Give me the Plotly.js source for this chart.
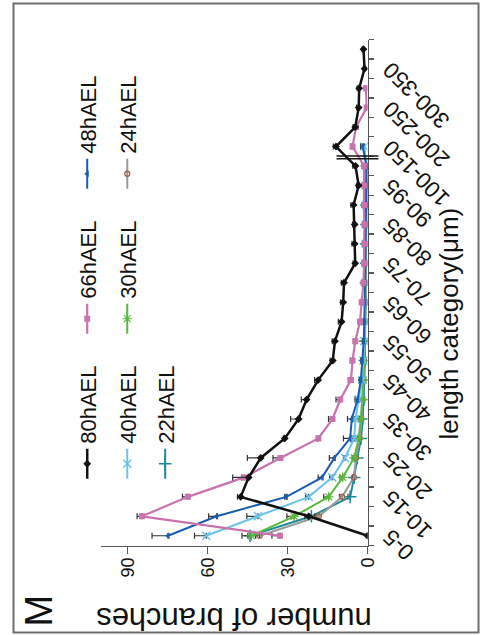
<!DOCTYPE html>
<html>
<head>
<meta charset="utf-8">
<script src="https://cdn.plot.ly/plotly-3.0.1.min.js"></script>
<style>
html,body{margin:0;padding:0;width:482px;height:635px;overflow:hidden;background:#fff;}
#wrap{position:absolute;left:-76.5px;top:76.5px;width:635px;height:482px;transform:rotate(-90deg);transform-origin:50% 50%;}
#chart{position:absolute;left:0;top:0;width:635px;height:482px;}
#frame{position:absolute;left:2px;top:12px;width:631px;height:467px;border:2px solid #6e6e6e;box-sizing:border-box;pointer-events:none;}
</style>
</head>
<body>
<div id="wrap"><div id="chart"></div><div id="frame"></div></div>
<script>
// length categories (µm)
const categories = ['0-5','5-10','10-15','15-20','20-25','25-30','30-35','35-40','40-45','45-50','50-55','55-60','60-65','65-70','70-75','75-80','80-85','85-90','90-95','95-100','100-150','150-200','200-250','250-300','300-350','350-400'];
const tickLabels = ['0-5','','10-15','','20-25','','30-35','','40-45','','50-55','','60-65','','70-75','','80-85','','90-95','','100-150','','200-250','','300-350',''];
const valueTicks = [0, 30, 60, 90];

// number of branches per category, and upper error
const h80 = [0,22,47.5,44.5,40,31,25.8,22.8,18.5,13,12.2,9.7,9.1,8.8,4.6,4.8,4.8,5.2,3.3,4.5,11.8,4.6,3.3,3.1,1.1,1.5];
const e80 = [0,1.5,1.2,6,5,0.5,3,2,1.3,1,1,1.2,1,1,0.8,1,0.8,1,0.8,1,1,0.8,0.8,0.8,0.5,0.5];
const h66 = [32.8,84.5,67.3,46.2,32.6,18.4,13.1,10.2,6.2,5.6,4.6,2.8,2.2,1.5,1.3,1.2,1.2,1.3,1.3,1.3,5.6,4.3,0.3,0.6,null,null];
const e66 = [3,1.8,2,1,2.8,0.5,1.5,1.6,1,0.8,0.6,0.5,0.5,0.4,0.4,0.4,0.4,0.4,0.4,0.4,0.6,0.5,0.2,0.2,null,null];
const h48 = [74.7,56.5,30.4,17,12.4,6.5,5.9,3.7,2.5,2,1.4,1.2,1,0.9,0.8,0.7,0.6,0.5,0.5,0.4,1.8];
const e48 = [6,3,0.6,1.5,1.9,2.5,1.6,1,0.6,0.5,0.4,0.4,0.3,0.3,0.3,0.3,0.3,0.3,0.3,0.3,0.8];
const h40 = [60.4,41,22,13.2,8.4,5,4.5,3.3,2,1.5,1.2,1,0.9,0.8,0.7,0.6,0.5,0.5,0.4,0.4,1.2];
const e40 = [4.4,4.2,1.2,1,0.6,0.5,0.5,0.4,0.4,0.3,0.3,0.3,0.3,0.3,0.3,0.3,0.3,0.3,0.3,0.3,0.4];
const h30 = [43.5,27.5,14.5,9.3,5,3.3,2.5,2,1.5,1.3,1,0.9,0.8,0.7,0.6,0.5,0.4,0.3,0.3,0.3];
const e30 = [3.5,2.7,1.9,1,0.7,0.5,0.5,0.4,0.4,0.3,0.3,0.3,0.3,0.3,0.3,0.3,0.3,0.3,0.3,0.3];
const h24 = [40.4,18.2,9.5,5.1,4.3,2.9,2.3,1.8,1.5,1.2,1,0.8,0.7,0.6,0.5,0.4,0.3,0.3,0.3,0.3];
const e24 = [1.5,1.5,1,0.6,0.5,0.4,0.4,0.3,0.3,0.3,0.3,0.3,0.3,0.3,0.3,0.3,0.3,0.3,0.3,0.3];
const h22 = [44,21,6.5,5,3.8,2.4,1.8,1.4,1.2,1,0.9,0.8,0.7,0.6,0.5,0.5,0.4,0.4,0.3,0.3];
const e22 = [0.8,1,0.8,0.5,0.4,0.4,0.3,0.3,0.3,0.3,0.3,0.3,0.3,0.3,0.3,0.3,0.3,0.3,0.3,0.3];

function series(name, vals, errs, color, lw, marker, legend) {
  return {
    type: 'scatter', mode: 'lines+markers', name: name,
    x: categories.slice(0, vals.length), y: vals,
    line: {color: color, width: lw},
    marker: marker,
    error_y: {type: 'data', symmetric: false, array: errs, arrayminus: errs.map(() => 0),
              color: '#333', thickness: 1.2, width: 3},
    legend: legend, connectgaps: false
  };
}

const traces = [
  series('22hAEL', h22, e22, '#1d8a98', 2, {symbol: 'cross-thin-open', size: 9, line: {color: '#1d8a98', width: 1.5}}, 'legend3'),
  series('24hAEL', h24, e24, '#9b9b9b', 2, {symbol: 'circle-open', size: 5, color: '#a0644a', line: {color: '#a0644a', width: 1.3}}, 'legend2'),
  series('30hAEL', h30, e30, '#5cb83c', 2, {symbol: 'asterisk-open', size: 8, line: {color: '#7a3cb0', width: 1.2}}, 'legend2'),
  series('40hAEL', h40, e40, '#6cc3e8', 2, {symbol: 'x-thin-open', size: 8, line: {color: '#6cc3e8', width: 1.5}}, 'legend2'),
  series('48hAEL', h48, e48, '#1b5cb0', 2, {symbol: 'triangle-up', size: 6, color: '#1b5cb0'}, 'legend'),
  series('66hAEL', h66, e66, '#c873ad', 2.2, {symbol: 'square', size: 6, color: '#c873ad'}, 'legend'),
  series('80hAEL', h80, e80, '#111111', 2.5, {symbol: 'diamond', size: 6, color: '#111111'}, 'legend')
];

const legFont = {size: 22, color: '#111'};
const legCommon = {orientation: 'h', xanchor: 'left', yanchor: 'middle', x: 0.122,
                   entrywidth: 100, entrywidthmode: 'pixels', font: legFont, bgcolor: 'rgba(0,0,0,0)'};
const layout = {
  width: 635, height: 482,
  margin: {l: 90, r: 38.5, t: 100, b: 115, pad: 0},
  paper_bgcolor: '#ffffff', plot_bgcolor: '#ffffff',
  font: {family: 'Arial, "Liberation Sans", sans-serif', color: '#111'},
  showlegend: true,
  xaxis: {
    type: 'category', range: [-0.5, 25.5],
    tickmode: 'array', tickvals: categories, ticktext: tickLabels,
    tickson: 'boundaries', ticks: 'outside', ticklen: 5, tickwidth: 1.3, tickcolor: '#555',
    showline: true, linecolor: '#555', linewidth: 1.3,
    tickangle: -45, tickfont: {size: 22.5, color: '#111'},
    showgrid: false, zeroline: false
  },
  yaxis: {
    range: [0, 100], tickmode: 'array', tickvals: valueTicks,
    ticks: 'outside', ticklen: 7, tickwidth: 1.3, tickcolor: '#555',
    showline: true, linecolor: '#555', linewidth: 1.3,
    tickfont: {size: 18, color: '#111'},
    title: {text: 'number of branches', font: {size: 31, color: '#111'}},
    showgrid: false, zeroline: false
  },
  legend: Object.assign({}, legCommon, {traceorder: 'reversed', y: 1.049}),
  legend2: Object.assign({}, legCommon, {traceorder: 'reversed', y: 0.899}),
  legend3: Object.assign({}, legCommon, {y: 0.757}),
  annotations: [
    {text: 'length category(μm)', xref: 'paper', yref: 'paper', x: 0.439, y: -0.305,
     xanchor: 'center', yanchor: 'middle', showarrow: false, font: {size: 26, color: '#111'}},
    {text: 'M', xref: 'paper', yref: 'paper', x: -0.128, y: 1.234,
     xanchor: 'center', yanchor: 'middle', showarrow: false, font: {size: 38, color: '#111'}}
  ],
  shapes: [
    {type: 'line', xref: 'x', yref: 'paper', x0: 19.37, x1: 19.37, y0: -0.041, y1: 0.116, line: {color: '#111', width: 1.5}},
    {type: 'line', xref: 'x', yref: 'paper', x0: 19.52, x1: 19.52, y0: -0.041, y1: 0.116, line: {color: '#111', width: 1.5}}
  ]
};

Plotly.newPlot('chart', traces, layout, {displayModeBar: false, staticPlot: true});
</script>
</body>
</html>
